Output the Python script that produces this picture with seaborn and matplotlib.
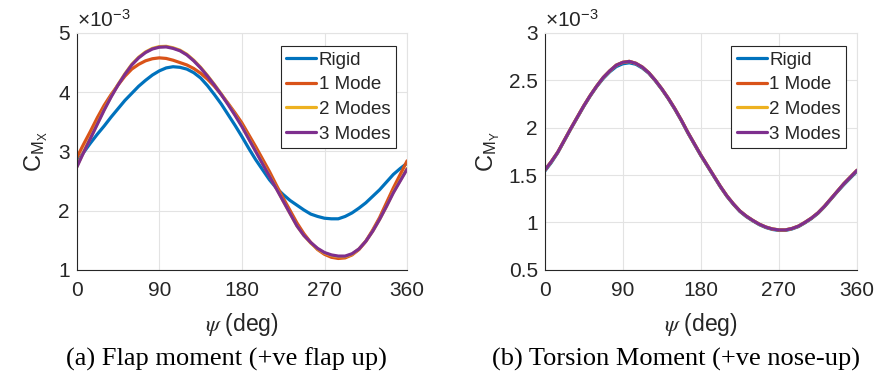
import numpy as np
import pandas as pd
import matplotlib
matplotlib.use("Agg")
import matplotlib.pyplot as plt
import seaborn as sns

# ---------------- data (values in units of 1e-3) ----------------
psi = [0, 7.5, 15, 22.5, 30, 37.5, 45, 52.5, 60, 67.5, 75, 82.5, 90,
       97.5, 105, 112.5, 120, 127.5, 135, 142.5, 150, 157.5, 165, 172.5, 180,
       187.5, 195, 202.5, 210, 217.5, 225, 232.5, 240, 247.5, 255, 262.5, 270,
       277.5, 285, 292.5, 300, 307.5, 315, 322.5, 330, 337.5, 345, 352.5, 360]

series_names = ["Rigid", "1 Mode", "2 Modes", "3 Modes"]

cmx_rigid = [2.82, 2.98, 3.14, 3.29, 3.43, 3.58, 3.72, 3.86, 3.98, 4.10, 4.20, 4.29, 4.36,
             4.41, 4.43, 4.42, 4.39, 4.33, 4.24, 4.11, 3.96, 3.80, 3.62, 3.44, 3.25,
             3.05, 2.86, 2.69, 2.52, 2.38, 2.27, 2.17, 2.09, 2.01, 1.94, 1.90, 1.87,
             1.86, 1.86, 1.90, 1.96, 2.04, 2.13, 2.24, 2.35, 2.48, 2.61, 2.71, 2.80]
cmx_mode1 = [2.89, 3.12, 3.34, 3.57, 3.78, 3.96, 4.12, 4.27, 4.39, 4.47, 4.53, 4.565, 4.58,
             4.57, 4.54, 4.50, 4.46, 4.40, 4.32, 4.22, 4.10, 3.96, 3.81, 3.65, 3.48,
             3.28, 3.08, 2.87, 2.66, 2.43, 2.21, 2.00, 1.79, 1.61, 1.46, 1.34, 1.26,
             1.21, 1.19, 1.20, 1.25, 1.34, 1.48, 1.67, 1.88, 2.13, 2.38, 2.61, 2.84]
cmx_mode2 = [2.74, 2.99, 3.23, 3.47, 3.71, 3.93, 4.13, 4.31, 4.47, 4.59, 4.68, 4.74, 4.77,
             4.775, 4.75, 4.71, 4.64, 4.54, 4.42, 4.28, 4.13, 3.97, 3.80, 3.62, 3.43,
             3.22, 3.01, 2.80, 2.59, 2.38, 2.16, 1.95, 1.74, 1.58, 1.45, 1.35, 1.28,
             1.24, 1.22, 1.22, 1.26, 1.35, 1.48, 1.65, 1.85, 2.07, 2.31, 2.51, 2.71]
cmx_mode3 = [2.73, 2.98, 3.22, 3.46, 3.70, 3.92, 4.12, 4.30, 4.46, 4.58, 4.67, 4.73, 4.76,
             4.765, 4.74, 4.70, 4.63, 4.53, 4.41, 4.27, 4.12, 3.96, 3.79, 3.61, 3.42,
             3.21, 3.00, 2.79, 2.58, 2.37, 2.16, 1.95, 1.74, 1.58, 1.46, 1.36, 1.29,
             1.25, 1.23, 1.23, 1.27, 1.35, 1.48, 1.65, 1.85, 2.07, 2.30, 2.50, 2.70]

cmy_rigid = [1.54, 1.63, 1.735, 1.86, 1.985, 2.105, 2.225, 2.335, 2.435, 2.52, 2.59, 2.645, 2.675,
             2.685, 2.67, 2.63, 2.575, 2.495, 2.405, 2.305, 2.195, 2.075, 1.945, 1.825, 1.705,
             1.595, 1.485, 1.375, 1.275, 1.19, 1.115, 1.06, 1.015, 0.975, 0.945, 0.925, 0.915,
             0.915, 0.93, 0.955, 0.995, 1.04, 1.095, 1.165, 1.245, 1.325, 1.40, 1.47, 1.54]
cmy_mode1 = [1.55, 1.64, 1.74, 1.865, 1.99, 2.11, 2.23, 2.34, 2.44, 2.53, 2.60, 2.66, 2.69,
             2.70, 2.68, 2.64, 2.58, 2.50, 2.41, 2.31, 2.20, 2.08, 1.95, 1.83, 1.71,
             1.60, 1.49, 1.38, 1.28, 1.195, 1.12, 1.065, 1.02, 0.98, 0.95, 0.93, 0.92,
             0.92, 0.935, 0.96, 1.00, 1.045, 1.10, 1.17, 1.25, 1.33, 1.41, 1.48, 1.55]
cmy_mode2 = [1.55, 1.64, 1.74, 1.865, 1.99, 2.11, 2.23, 2.34, 2.44, 2.53, 2.60, 2.66, 2.69,
             2.70, 2.68, 2.64, 2.58, 2.50, 2.41, 2.31, 2.20, 2.08, 1.95, 1.83, 1.71,
             1.60, 1.49, 1.38, 1.28, 1.195, 1.12, 1.065, 1.02, 0.98, 0.95, 0.93, 0.92,
             0.92, 0.935, 0.96, 1.00, 1.045, 1.10, 1.17, 1.25, 1.33, 1.41, 1.48, 1.55]
cmy_mode3 = [1.55, 1.64, 1.74, 1.865, 1.99, 2.11, 2.23, 2.34, 2.44, 2.53, 2.60, 2.66, 2.69,
             2.70, 2.68, 2.64, 2.58, 2.50, 2.41, 2.31, 2.20, 2.08, 1.95, 1.83, 1.71,
             1.60, 1.49, 1.38, 1.28, 1.195, 1.12, 1.065, 1.02, 0.98, 0.95, 0.93, 0.92,
             0.92, 0.935, 0.96, 1.00, 1.045, 1.10, 1.17, 1.25, 1.33, 1.41, 1.48, 1.55]

x_ticks = [0, 90, 180, 270, 360]
y_ticks_a = [1, 2, 3, 4, 5]
y_ticks_b = [0.5, 1, 1.5, 2, 2.5, 3]
y_ticklabels_b = ["0.5", "1", "1.5", "2", "2.5", "3"]

colors = ["#0072BD", "#D95319", "#EDB120", "#7E2F8E"]

caption_a = "(a) Flap moment (+ve flap up)"
caption_b = "(b) Torsion Moment (+ve nose-up)"


def long_df(vals):
    rows = []
    for name, v in zip(series_names, vals):
        for p, y in zip(psi, v):
            rows.append({"psi": p, "val": y, "series": name})
    return pd.DataFrame(rows)


df_a = long_df([cmx_rigid, cmx_mode1, cmx_mode2, cmx_mode3])
df_b = long_df([cmy_rigid, cmy_mode1, cmy_mode2, cmy_mode3])

sns.set_theme(style="whitegrid")
plt.rcParams["font.family"] = ["Liberation Sans", "DejaVu Sans"]
plt.rcParams["mathtext.fontset"] = "stix"

W, H = 876, 380
fig = plt.figure(figsize=(W / 100, H / 100), dpi=100)
fig.patch.set_facecolor("white")

ax_a = fig.add_axes([76.7 / W, 1 - 269.7 / H, 330.4 / W, 236.7 / H])
ax_b = fig.add_axes([544.7 / W, 1 - 269.7 / H, 312.3 / W, 236.7 / H])

tick_fs = 15
dark = "#262626"


def style(ax, df, ylim, yticks, yticklabels, ylabel, ylab_x):
    sns.lineplot(data=df, x="psi", y="val", hue="series", hue_order=series_names,
                 palette=colors, linewidth=2.3, ax=ax, sort=False)
    for ln in ax.get_lines():
        ln.set_solid_joinstyle("round")
        ln.set_solid_capstyle("round")
    ax.set_xlim(0, 360)
    ax.set_ylim(*ylim)
    ax.set_xticks(x_ticks)
    ax.set_xticklabels([str(t) for t in x_ticks])
    ax.set_yticks(yticks)
    ax.set_yticklabels(yticklabels)
    ax.set_facecolor("white")
    ax.grid(True, color="#e3e3e3", linewidth=0.8)
    ax.set_axisbelow(True)
    for s in ["left", "bottom"]:
        ax.spines[s].set_color(dark)
        ax.spines[s].set_linewidth(0.8)
    for s in ["top", "right"]:
        ax.spines[s].set_color("#e3e3e3")
        ax.spines[s].set_linewidth(0.8)
    ax.tick_params(axis="both", direction="in", length=3, width=0.6, colors=dark,
                   labelsize=tick_fs, labelcolor=dark, pad=5)
    ax.tick_params(axis="x", pad=8)
    ax.set_xlabel(r"$\psi$ (deg)", fontsize=16.5, color=dark)
    ax.xaxis.set_label_coords(0.5, -0.175)
    ax.set_ylabel(ylabel, fontsize=17, color=dark)
    ax.yaxis.set_label_coords(ylab_x, 0.5)
    ax.text(0.0, 1.008, r"$\mathregular{\times 10^{-3}}$", transform=ax.transAxes,
            ha="left", va="bottom", fontsize=15, color=dark)
    leg = ax.legend(loc="upper right", bbox_to_anchor=(0.966, 0.945), fontsize=13.5,
                    handlelength=1.6, handletextpad=0.12, labelspacing=0.4,
                    borderpad=0.3, borderaxespad=0.0, fancybox=False, framealpha=1)
    leg.get_frame().set_edgecolor(dark)
    leg.get_frame().set_linewidth(0.8)
    for t in leg.get_texts():
        t.set_color(dark)
    for l in leg.get_lines():
        l.set_linewidth(2.3)


style(ax_a, df_a, (1, 5), y_ticks_a, [str(t) for t in y_ticks_a],
      r"$\mathregular{C_{M_X}}$", -0.081)
style(ax_b, df_b, (0.5, 3), y_ticks_b, y_ticklabels_b,
      r"$\mathregular{C_{M_Y}}$", -0.137)

fig.text(226 / W, 1 - 359 / H, caption_a, ha="center", va="center",
         fontsize=19, family="Liberation Serif", color="black")
fig.text(676 / W, 1 - 359 / H, caption_b, ha="center", va="center",
         fontsize=19, family="Liberation Serif", color="black")

fig.savefig("out.png", dpi=100, facecolor="white")
